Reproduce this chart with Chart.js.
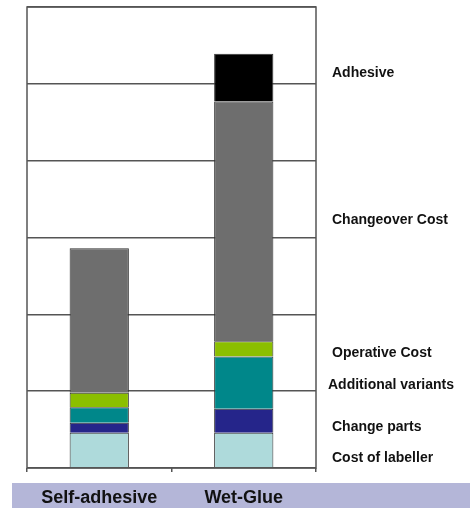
<!DOCTYPE html>
<html>
<head>
<meta charset="utf-8">
<script src="https://cdn.jsdelivr.net/npm/chart.js@4"></script>
<style>
  body { margin: 0; background: #fff; }
  #wrap { width: 470px; height: 508px; position: relative; }
</style>
</head>
<body>
<div id="wrap"><canvas id="chart"></canvas></div>
<script>
// Cost comparison: self-adhesive vs wet-glue labelling (stacked, no y scale shown)
const categories = ['Self-adhesive', 'Wet-Glue'];

const costOfLabeller     = [0.46, 0.46];
const changeParts        = [0.13, 0.31];
const additionalVariants = [0.20, 0.68];
const operativeCost      = [0.19, 0.20];
const changeoverCost     = [1.88, 3.12];
const adhesive           = [0, 0.62];

const yMax = 6;

// series names, bottom of the stack first
const seriesNames = ['Cost of labeller', 'Change parts', 'Additional variants',
                     'Operative Cost', 'Changeover Cost', 'Adhesive'];
const seriesValues = [costOfLabeller, changeParts, additionalVariants,
                      operativeCost, changeoverCost, adhesive];
const seriesColors = ['#aedadb', '#25258a', '#00878a', '#8bbf00', '#6e6e6e', '#000000'];

// small vertical nudges for the side labels (they sit near the Wet-Glue segments)
const labelNudge = [8, 6, 2, 4, -1, -5];

// white page, lavender band behind the category names, box round the plot
const framePlugin = {
  id: 'frame',
  beforeDraw(chart) {
    const ctx = chart.ctx;
    ctx.save();
    ctx.fillStyle = '#ffffff';
    ctx.fillRect(0, 0, chart.width, chart.height);
    ctx.fillStyle = '#b4b6d8';
    ctx.fillRect(12, 483, chart.width - 12, chart.height - 483);
    ctx.restore();
  },
  afterDraw(chart) {
    const { ctx, chartArea } = chart;
    ctx.save();
    ctx.strokeStyle = '#555555';
    ctx.lineWidth = 1.5;
    ctx.strokeRect(chartArea.left, chartArea.top,
                   chartArea.right - chartArea.left, chartArea.bottom - chartArea.top);

    // side labels, next to the Wet-Glue stack
    const y = chart.scales.y;
    ctx.fillStyle = '#111111';
    ctx.font = 'bold 14px "Liberation Sans", Arial, sans-serif';
    ctx.textBaseline = 'middle';
    let base = 0;
    seriesNames.forEach((name, i) => {
      const v = seriesValues[i][1];
      const mid = y.getPixelForValue(base + v / 2);
      base += v;
      const x = name === 'Additional variants' ? chartArea.right + 12 : chartArea.right + 16;
      ctx.fillText(name, x, mid + labelNudge[i]);
    });
    ctx.restore();
  }
};

const datasets = seriesNames.map((name, i) => ({
  label: name,
  data: seriesValues[i],
  backgroundColor: seriesColors[i],
  borderColor: '#333333',
  borderWidth: 1,
  categoryPercentage: 1,
  barPercentage: 0.41
}));

new Chart(document.getElementById('chart'), {
  type: 'bar',
  data: { labels: categories, datasets: datasets },
  plugins: [framePlugin],
  options: {
    responsive: true,
    maintainAspectRatio: false,
    animation: false,
    layout: { padding: { left: 27, right: 154, top: 7, bottom: 0 } },
    plugins: {
      legend: { display: false },
      tooltip: { enabled: false }
    },
    scales: {
      x: {
        stacked: true,
        afterFit(scale) { scale.height = 40; },
        grid: {
          offset: true,
          drawOnChartArea: false,
          drawTicks: true,
          tickLength: 4,
          color: '#555555',
          lineWidth: 1.5
        },
        border: { display: false },
        ticks: {
          color: '#111111',
          padding: 15,
          font: { family: '"Liberation Sans", Arial, sans-serif', size: 18, weight: 'bold' }
        }
      },
      y: {
        stacked: true,
        min: 0,
        max: yMax,
        grid: {
          drawTicks: false,
          color: '#555555',
          lineWidth: 1.5
        },
        border: { display: false },
        ticks: { display: false, stepSize: 1 }
      }
    }
  }
});
</script>
</body>
</html>
